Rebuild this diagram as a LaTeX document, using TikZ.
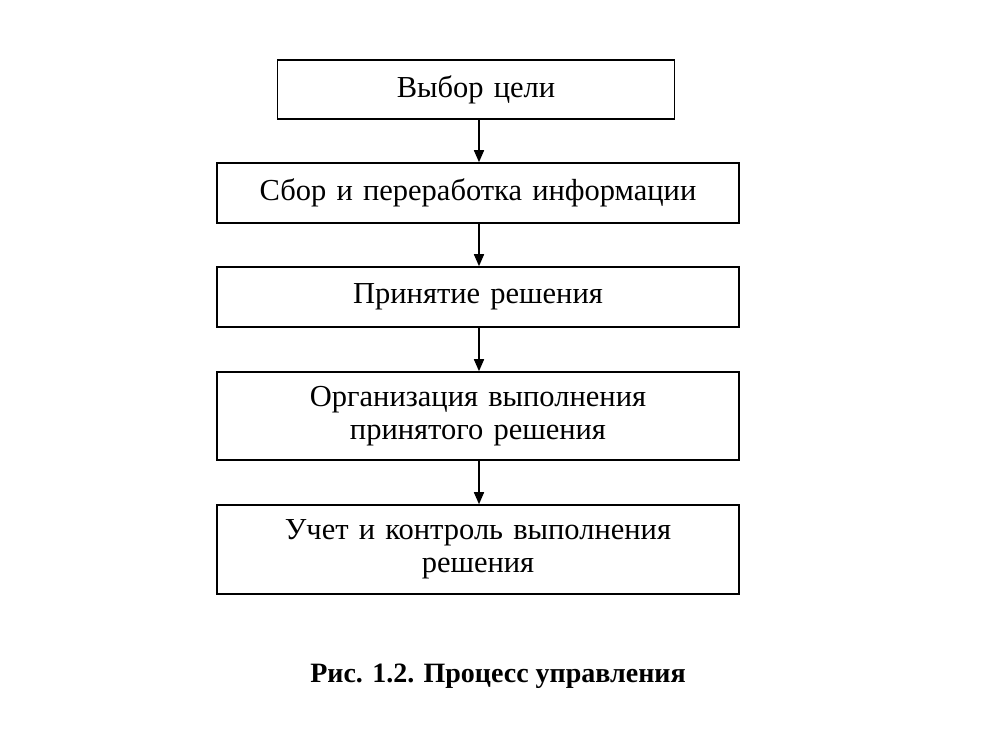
\documentclass[tikz,border=0pt]{standalone}
\usepackage{fontspec}
\setmainfont{Liberation Serif}
\usetikzlibrary{arrows.meta}
\begin{document}
\begin{tikzpicture}[x=1pt,y=-1pt,
  stagebox/.style={draw=black, line width=1.6pt, minimum height=#1, inner sep=0pt,
    align=center, font=\fontsize{30.5}{32.5}\selectfont, text width=510pt},
  flow/.style={line width=1.6pt, -{Triangle[length=12pt,width=10pt]}}]
\useasboundingbox (0,0) rectangle (1000,750);
\node[stagebox=59pt, minimum width=397pt, text width=380pt] (b1) at (476,89.5) {Выбор цели};
\node[stagebox=60pt, minimum width=522pt] (b2) at (478,193) {Сбор и переработка информации};
\node[stagebox=60pt, minimum width=522pt] (b3) at (478,297) {Принятие решения};
\node[stagebox=88pt, minimum width=522pt] (b4) at (478,416) {Организация выполнения\\принятого решения};
\node[stagebox=89pt, minimum width=522pt] (b5) at (478,549.5) {Учет и контроль выполнения\\решения};
\node[font=\fontsize{28}{32}\selectfont\bfseries, anchor=base] (cap) at (498,682) {Рис. 1.2. Процесс управления};
\draw[flow] (b1.south -| 479,0) -- (b2.north -| 479,0);
\draw[flow] (b2.south -| 479,0) -- (b3.north -| 479,0);
\draw[flow] (b3.south -| 479,0) -- (b4.north -| 479,0);
\draw[flow] (b4.south -| 479,0) -- (b5.north -| 479,0);
\end{tikzpicture}
\end{document}
